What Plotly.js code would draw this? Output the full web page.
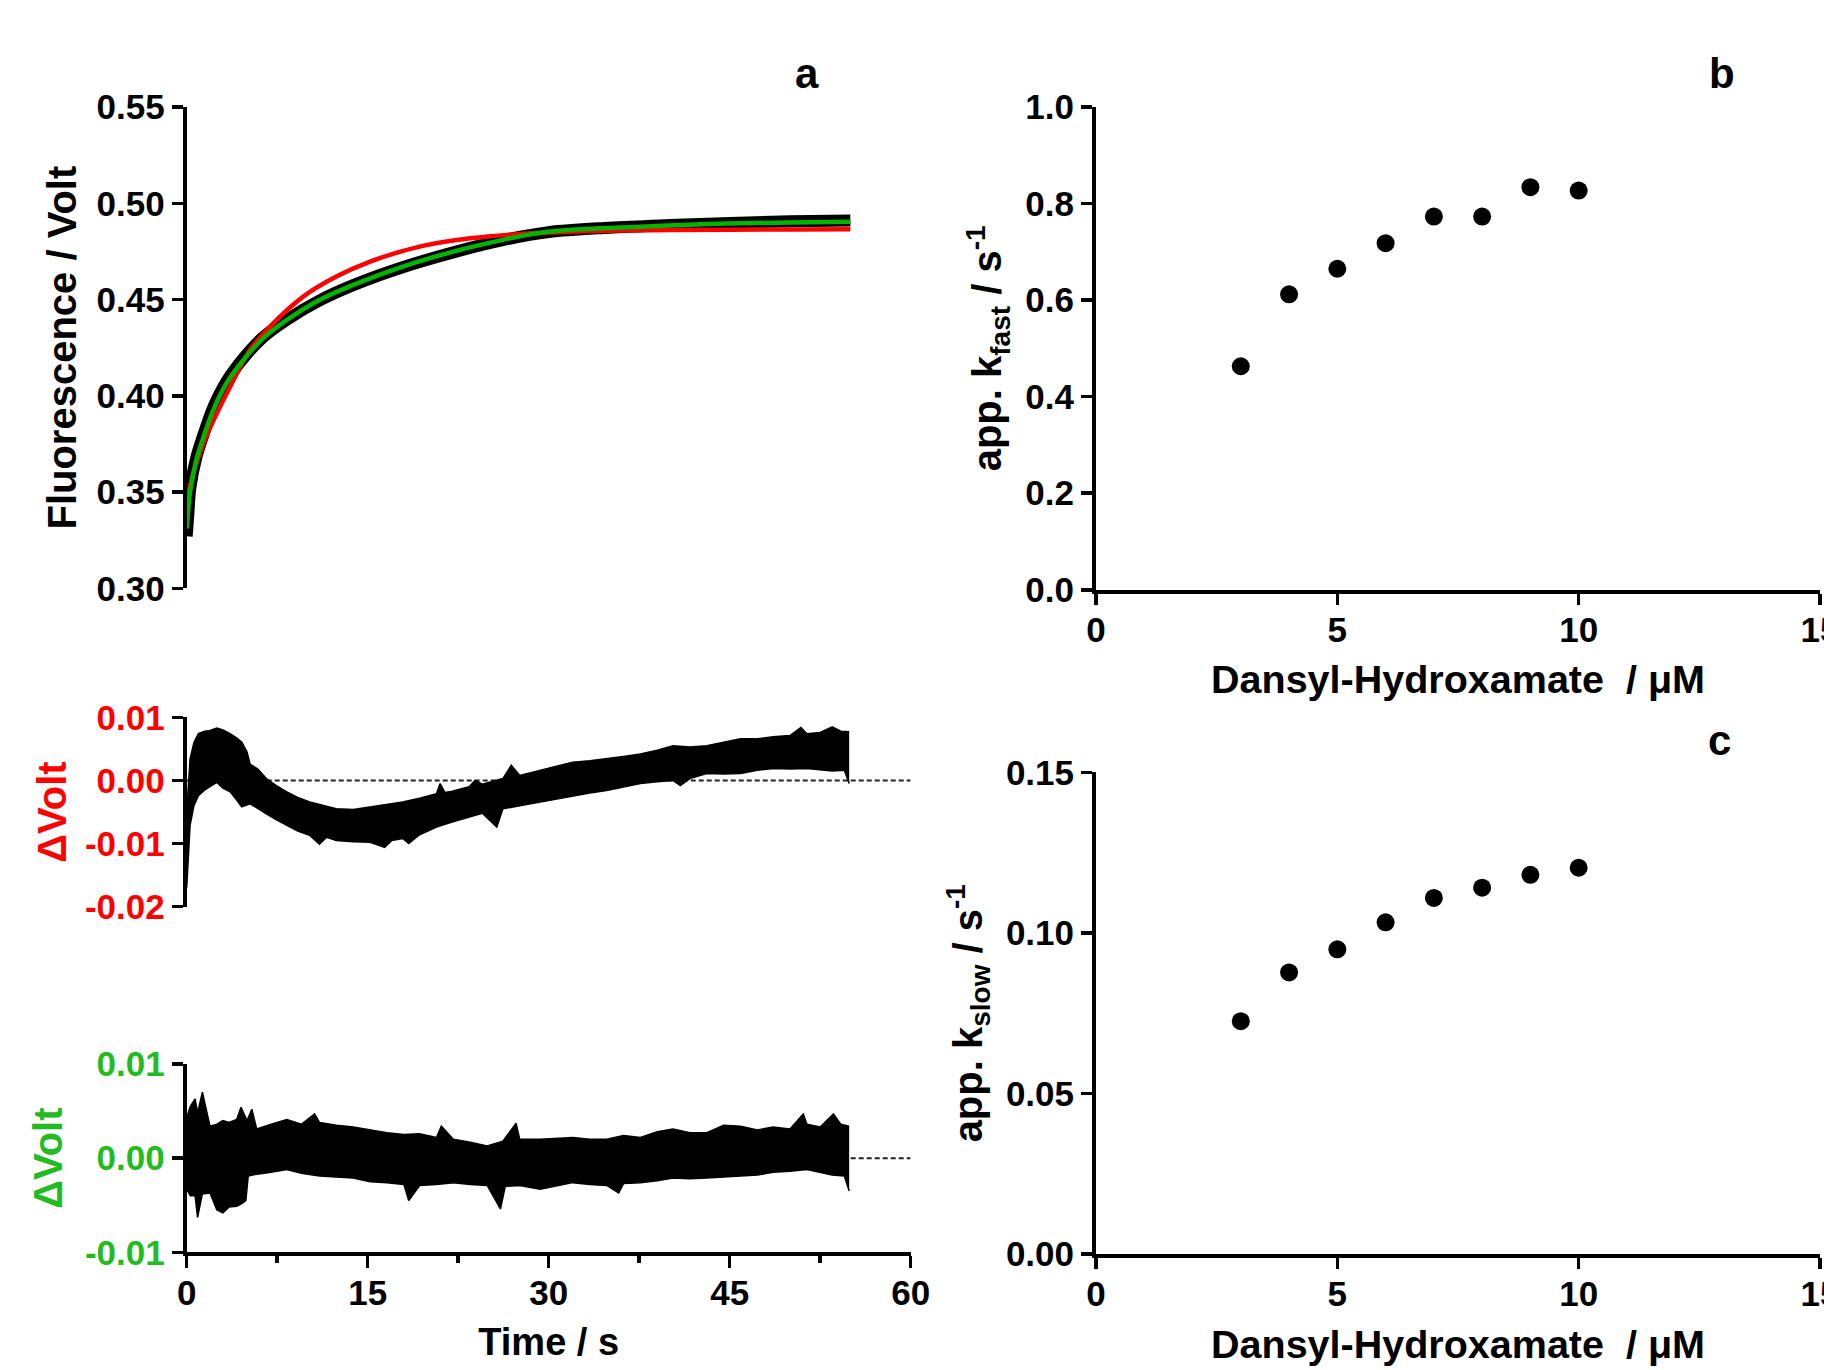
<!DOCTYPE html>
<html><head><meta charset="utf-8">
<script src="https://cdn.plot.ly/plotly-3.0.1.min.js"></script>
<style>html,body{margin:0;padding:0;background:#fff}</style>
</head><body><div id="chart" style="width:1824px;height:1370px"></div>
<script>
// ---------- Panel a: stopped-flow trace ----------
const dataT   = [0, 0.15, 0.3, 0.8, 1.4, 2.2, 3.3, 4.7, 6.35, 8.3, 11, 13.8, 17.9, 22.1, 26.2, 30, 35, 40, 45, 50, 55];
const dataV   = [0.327, 0.340, 0.352, 0.368, 0.380, 0.394, 0.4075, 0.4195, 0.4305, 0.4395, 0.4495, 0.4575, 0.4668, 0.4745, 0.4808, 0.4850, 0.4873, 0.4887, 0.4898, 0.4906, 0.4910];
const greenT  = [0, 0.3, 0.8, 1.4, 2.2, 3.3, 4.7, 6.35, 8.3, 11.0, 13.8, 17.9, 22.1, 26.2, 29.3, 33, 37.6, 41.7, 45.8, 50, 55];
const greenV  = [0.331, 0.351, 0.3667, 0.3788, 0.3926, 0.4065, 0.4186, 0.4299, 0.4394, 0.4498, 0.4576, 0.4671, 0.4749, 0.481, 0.4847, 0.4866, 0.4878, 0.4889, 0.4896, 0.4900, 0.4904];
const redT    = [0, 0.55, 1.38, 2.5, 3.6, 5.24, 6.9, 9.66, 12.4, 15.2, 19.3, 23.5, 27.6, 32, 36, 40.3, 45, 50, 55];
const redV    = [0.345, 0.3597, 0.3753, 0.3909, 0.4047, 0.4238, 0.4359, 0.4515, 0.4619, 0.4697, 0.4775, 0.4818, 0.4840, 0.4852, 0.4858, 0.4861, 0.4863, 0.4864, 0.4865];

// ---------- Residuals of single-exponential fit (red), envelope of the noise band ----------
const res1UpT = [0, 0.28, 0.6, 0.97, 1.5, 1.93, 2.5, 3.0, 3.6, 4.1, 4.56, 5.0, 5.25, 5.9, 6.6, 7.4, 8.3, 9.2, 10.2, 11.3, 12.4, 13.8, 15.2, 16.5, 17.9, 19.3, 20.7, 21.0, 21.4, 22.0, 23.4, 23.9, 24.5, 26.2, 26.9, 27.6, 29.3, 30.6, 32.0, 33.4, 34.8, 36.2, 37.6, 39.0, 40.3, 41.7, 43.1, 44.5, 45.9, 47.3, 48.6, 50.0, 50.9, 51.4, 52.5, 53.5, 54.2, 54.9];
const res1Up  = [-0.005, 0.0034, 0.0060, 0.0074, 0.0078, 0.0079, 0.0083, 0.0080, 0.0074, 0.0068, 0.0061, 0.0045, 0.0026, 0.0018, 0.0003, -0.0008, -0.0018, -0.0027, -0.0034, -0.0040, -0.0045, -0.0046, -0.0042, -0.0038, -0.0034, -0.0028, -0.0021, -0.0005, -0.0019, -0.0017, -0.0010, 0.0000, -0.0006, 0.0003, 0.0024, 0.0008, 0.0016, 0.0022, 0.0029, 0.0031, 0.0034, 0.0038, 0.0042, 0.0048, 0.0055, 0.0053, 0.0055, 0.0060, 0.0066, 0.0066, 0.0069, 0.0071, 0.0084, 0.0074, 0.0076, 0.0085, 0.0078, 0.0077];
const res1LoT = [0, 0.1, 0.28, 0.6, 0.97, 1.5, 1.93, 2.5, 3.0, 3.6, 4.1, 4.56, 5.25, 5.9, 6.6, 7.4, 8.3, 9.2, 10.2, 11.0, 11.6, 12.4, 13.8, 15.2, 16.4, 17.0, 17.9, 18.4, 19.3, 20.7, 22.0, 23.4, 24.5, 25.7, 26.2, 27.6, 29.3, 30.6, 32.0, 33.4, 34.8, 36.2, 37.6, 39.0, 40.3, 40.9, 41.7, 43.1, 44.5, 45.9, 47.3, 48.6, 50.0, 51.4, 52.5, 53.5, 54.5, 54.9];
const res1Lo  = [-0.017, -0.013, -0.0071, -0.0040, -0.0024, -0.0015, -0.0010, -0.0003, -0.0012, -0.0018, -0.0030, -0.0042, -0.0037, -0.0045, -0.0053, -0.0062, -0.0071, -0.0080, -0.0087, -0.0101, -0.0090, -0.0095, -0.0097, -0.0098, -0.0106, -0.0095, -0.0092, -0.0100, -0.0086, -0.0074, -0.0066, -0.0058, -0.0052, -0.0074, -0.0045, -0.0040, -0.0034, -0.0030, -0.0024, -0.0020, -0.0016, -0.0010, -0.0005, -0.0002, 0.0000, -0.0008, 0.0003, 0.0011, 0.0010, 0.0011, 0.0016, 0.0019, 0.0018, 0.0019, 0.0017, 0.0015, 0.0016, -0.0005];

// ---------- Residuals of double-exponential fit (green) ----------
const res2UpT = [0, 0.3, 0.7, 0.9, 1.3, 1.93, 2.5, 3.0, 3.5, 4.14, 4.5, 5.0, 5.4, 5.8, 7.0, 8.3, 9.5, 10.6, 11.0, 12.4, 13.8, 15.2, 16.6, 18.0, 19.3, 20.7, 21.1, 22.1, 23.5, 24.9, 26.2, 27.3, 27.6, 29.3, 30.6, 32.0, 33.4, 34.8, 36.2, 37.6, 39.0, 40.3, 41.7, 43.1, 44.5, 45.9, 47.3, 48.6, 50.0, 51.1, 51.4, 52.5, 53.6, 54.2, 54.9];
const res2Up  = [0.0043, 0.0055, 0.0063, 0.0048, 0.0070, 0.0034, 0.0036, 0.0040, 0.0038, 0.0041, 0.0054, 0.0040, 0.0052, 0.0031, 0.0036, 0.0041, 0.0036, 0.0047, 0.0038, 0.0035, 0.0033, 0.0030, 0.0027, 0.0025, 0.0026, 0.0022, 0.0034, 0.0020, 0.0017, 0.0013, 0.0018, 0.0037, 0.0020, 0.0020, 0.0021, 0.0022, 0.0020, 0.0020, 0.0024, 0.0022, 0.0028, 0.0031, 0.0027, 0.0027, 0.0035, 0.0034, 0.0030, 0.0033, 0.0031, 0.0047, 0.0036, 0.0033, 0.0047, 0.0036, 0.0034];
const res2LoT = [0, 0.3, 0.7, 0.9, 1.3, 1.93, 2.5, 3.0, 3.5, 4.14, 4.6, 4.9, 5.1, 5.8, 7.0, 8.3, 9.5, 11.0, 12.4, 13.8, 15.2, 16.6, 18.0, 18.4, 19.3, 20.7, 22.1, 23.5, 24.9, 26.0, 26.4, 27.6, 29.3, 30.6, 32.0, 33.4, 34.8, 35.8, 36.2, 37.6, 39.0, 40.3, 41.7, 43.1, 44.5, 45.9, 47.3, 48.6, 50.0, 51.4, 52.5, 53.5, 54.5, 54.9];
const res2Lo  = [-0.0033, -0.0040, -0.0040, -0.0063, -0.0038, -0.0037, -0.0055, -0.0058, -0.0052, -0.0051, -0.0048, -0.0045, -0.0019, -0.0017, -0.0015, -0.0012, -0.0016, -0.0019, -0.0020, -0.0021, -0.0025, -0.0026, -0.0028, -0.0045, -0.0029, -0.0028, -0.0026, -0.0028, -0.0029, -0.0054, -0.0030, -0.0029, -0.0033, -0.0030, -0.0026, -0.0028, -0.0029, -0.0037, -0.0027, -0.0026, -0.0024, -0.0021, -0.0022, -0.0021, -0.0020, -0.0019, -0.0018, -0.0015, -0.0014, -0.0012, -0.0015, -0.0018, -0.0019, -0.0035];

// ---------- Panels b and c ----------
const conc  = [3, 4, 5, 6, 7, 8, 9, 10];
const kFast = [0.463, 0.612, 0.665, 0.718, 0.773, 0.773, 0.834, 0.827];
const kSlow = [0.0725, 0.0877, 0.0949, 0.1033, 0.1109, 0.1141, 0.1181, 0.1203];

// ---------- Tick labels ----------
const fluorTicks = [0.30, 0.35, 0.40, 0.45, 0.50, 0.55];
const fluorTickText = ['0.30', '0.35', '0.40', '0.45', '0.50', '0.55'];
const res1Ticks = [-0.02, -0.01, 0, 0.01];
const res1TickText = ['-0.02', '-0.01', '0.00', '0.01'];
const res2Ticks = [-0.01, 0, 0.01];
const res2TickText = ['-0.01', '0.00', '0.01'];
const timeTicks = [0, 15, 30, 45, 60];
const timeTickText = ['0', '15', '30', '45', '60'];
const timeMinor = [7.5, 22.5, 37.5, 52.5];
const concTicks = [0, 5, 10, 15];
const concTickText = ['0', '5', '10', '15'];
const fastTicks = [0, 0.2, 0.4, 0.6, 0.8, 1.0];
const fastTickText = ['0.0', '0.2', '0.4', '0.6', '0.8', '1.0'];
const slowTicks = [0, 0.05, 0.10, 0.15];
const slowTickText = ['0.00', '0.05', '0.10', '0.15'];

// ---------- Layout helpers ----------
const W = 1824, H = 1370;
const F = 'Liberation Sans, Arial, sans-serif';
const RED = '#ff0000', GREEN = '#00b400', GREENTXT = '#22bb22';
const px = (a, b) => [a / W, b / W];
const py = (top, bot) => [1 - bot / H, 1 - top / H];
const tf = (c) => ({family: F, size: 35, color: c || '#000', weight: 700});
const ttl = (t, c, s, st) => ({text: t, font: {family: F, size: s || 38, color: c || '#000', weight: 700}, standoff: st});
const base = {showgrid: false, zeroline: false, showline: true, linecolor: '#000', linewidth: 4,
  ticks: 'outside', ticklen: 11, tickwidth: 3.5, tickcolor: '#000', tickmode: 'array',
  ticklabeloverflow: 'allow', fixedrange: true};

const xA = px(186.7, 910.7);
const xB = px(1096, 1820);

const traces = [
  {x: dataT, y: dataV, xaxis: 'x', yaxis: 'y', mode: 'lines', line: {color: '#000', width: 12, shape: 'spline'}, hoverinfo: 'skip'},
  {x: redT, y: redV, xaxis: 'x', yaxis: 'y', mode: 'lines', line: {color: RED, width: 4.5, shape: 'spline'}},
  {x: greenT, y: greenV, xaxis: 'x', yaxis: 'y', mode: 'lines', line: {color: GREEN, width: 4.5, shape: 'spline'}},
  {x: res1LoT, y: res1Lo, xaxis: 'x2', yaxis: 'y2', mode: 'lines', line: {color: '#000', width: 1.5}},
  {x: res1UpT, y: res1Up, xaxis: 'x2', yaxis: 'y2', mode: 'lines', line: {color: '#000', width: 1.5}, fill: 'tonexty', fillcolor: '#000'},
  {x: res2LoT, y: res2Lo, xaxis: 'x3', yaxis: 'y3', mode: 'lines', line: {color: '#000', width: 1.5}},
  {x: res2UpT, y: res2Up, xaxis: 'x3', yaxis: 'y3', mode: 'lines', line: {color: '#000', width: 1.5}, fill: 'tonexty', fillcolor: '#000'},
  {x: conc, y: kFast, xaxis: 'x4', yaxis: 'y4', mode: 'markers', marker: {color: '#000', size: 18}, cliponaxis: false},
  {x: conc, y: kSlow, xaxis: 'x5', yaxis: 'y5', mode: 'markers', marker: {color: '#000', size: 18}, cliponaxis: false}
];

const layout = {
  width: W, height: H, margin: {l: 0, r: 0, t: 0, b: 0},
  paper_bgcolor: '#fff', plot_bgcolor: 'rgba(0,0,0,0)', showlegend: false,
  font: {family: F, color: '#000'},
  xaxis:  {domain: xA, range: [0, 60], anchor: 'y', visible: false, fixedrange: true},
  yaxis:  Object.assign({}, base, {domain: py(107, 588.3), range: [0.30, 0.55], anchor: 'x',
            tickvals: fluorTicks, ticktext: fluorTickText, tickfont: tf(),
            title: ttl('Fluorescence / Volt', '#000', 40, 9)}),
  xaxis2: {domain: xA, range: [0, 60], anchor: 'y2', visible: false, fixedrange: true},
  yaxis2: Object.assign({}, base, {domain: py(717.3, 906.7), range: [-0.02, 0.01], anchor: 'x2',
            tickvals: res1Ticks, ticktext: res1TickText, tickfont: tf(RED),
            title: ttl('ΔVolt', RED, 40, 7)}),
  xaxis3: Object.assign({}, base, {domain: xA, range: [0, 60], anchor: 'y3',
            tickvals: timeTicks, ticktext: timeTickText, tickfont: tf(), ticklen: 12, ticklabelstandoff: -5,
            minor: {tickmode: 'array', tickvals: timeMinor, ticks: 'outside', ticklen: 7, tickwidth: 3.5, tickcolor: '#000', showgrid: false},
            title: ttl('Time / s', '#000', 38, 18)}),
  yaxis3: Object.assign({}, base, {domain: py(1064, 1252.3), range: [-0.01, 0.01], anchor: 'x3',
            tickvals: res2Ticks, ticktext: res2TickText, tickfont: tf(GREENTXT),
            title: ttl('ΔVolt', GREENTXT, 40, 11)}),
  xaxis4: Object.assign({}, base, {domain: xB, range: [0, 15], anchor: 'y4', ticklabelstandoff: -5,
            tickvals: concTicks, ticktext: concTickText, tickfont: tf(),
            title: ttl('Dansyl-Hydroxamate\u00a0 / μM', '#000', 39.5, 19)}),
  yaxis4: Object.assign({}, base, {domain: py(107, 589.8), range: [0, 1.0], anchor: 'x4',
            tickvals: fastTicks, ticktext: fastTickText, tickfont: tf(),
            title: ttl('app. k<sub>fast</sub> / s<sup>-1</sup>', '#000', 40, 12)}),
  xaxis5: Object.assign({}, base, {domain: xB, range: [0, 15], anchor: 'y5', ticklabelstandoff: -5,
            tickvals: concTicks, ticktext: concTickText, tickfont: tf(),
            title: ttl('Dansyl-Hydroxamate\u00a0 / μM', '#000', 39.5, 19)}),
  yaxis5: Object.assign({}, base, {domain: py(772.4, 1254), range: [0, 0.15], anchor: 'x5',
            tickvals: slowTicks, ticktext: slowTickText, tickfont: tf(),
            title: ttl('app. k<sub>slow</sub> / s<sup>-1</sup>', '#000', 40, 12)}),
  shapes: [
    {type: 'line', xref: 'x2', yref: 'y2', x0: 0, x1: 60, y0: 0, y1: 0, layer: 'below', line: {color: '#222', width: 2, dash: '5px,3px'}},
    {type: 'line', xref: 'x3', yref: 'y3', x0: 0, x1: 60, y0: 0, y1: 0, layer: 'below', line: {color: '#222', width: 2, dash: '5px,3px'}}
  ],
  annotations: [
    {text: 'a', xref: 'paper', yref: 'paper', x: 807 / W, y: 1 - 73 / H, xanchor: 'center', yanchor: 'middle', showarrow: false, font: {family: F, size: 42, weight: 700}},
    {text: 'b', xref: 'paper', yref: 'paper', x: 1722 / W, y: 1 - 73 / H, xanchor: 'center', yanchor: 'middle', showarrow: false, font: {family: F, size: 42, weight: 700}},
    {text: 'c', xref: 'paper', yref: 'paper', x: 1719 / W, y: 1 - 740 / H, xanchor: 'center', yanchor: 'middle', showarrow: false, font: {family: F, size: 42, weight: 700}}
  ]
};

Plotly.newPlot('chart', traces, layout, {staticPlot: true, displayModeBar: false});
</script></body></html>
